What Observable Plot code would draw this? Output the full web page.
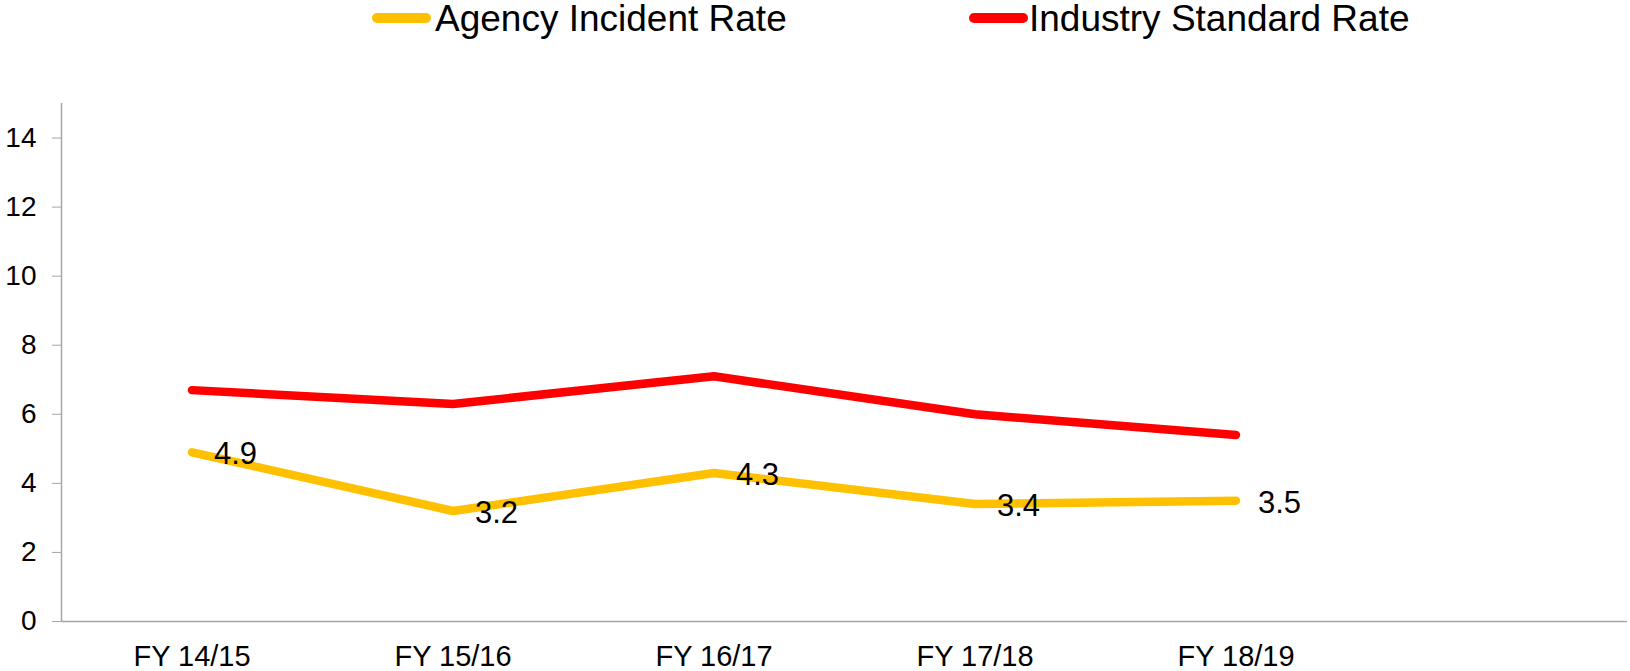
<!DOCTYPE html>
<html>
<head>
<meta charset="utf-8">
<script src="https://cdn.jsdelivr.net/npm/d3@7"></script>
<script src="https://cdn.jsdelivr.net/npm/@observablehq/plot@0.6"></script>
<style>
  html, body { margin: 0; padding: 0; background: #fff; }
  body { width: 1630px; height: 671px; overflow: hidden; font-family: "Liberation Sans", Arial, sans-serif; }
  #legend { position: relative; width: 1630px; height: 60px; }
  .sw { position: absolute; height: 10px; border-radius: 5px; top: 13px; }
  .lt { position: absolute; top: 0px; font-size: 37px; line-height: 37px; color: #000; white-space: nowrap; }
  #chart svg { display: block; }
</style>
</head>
<body>
<div id="legend"></div>
<div id="chart"></div>
<script>
const categories = ["FY 14/15", "FY 15/16", "FY 16/17", "FY 17/18", "FY 18/19"];
const agencyRate = [4.9, 3.2, 4.3, 3.4, 3.5];
const industryRate = [6.7, 6.3, 7.1, 6.0, 5.4];
const seriesNames = ["Agency Incident Rate", "Industry Standard Rate"];
const seriesColors = ["#FFC000", "#FF0000"];
const yTicks = [0, 2, 4, 6, 8, 10, 12, 14];

// legend
const legend = document.getElementById("legend");
const legendPos = [{sx: 372, tx: 435}, {sx: 969, tx: 1029}];
seriesNames.forEach((name, i) => {
  const sw = document.createElement("div");
  sw.className = "sw";
  sw.style.left = legendPos[i].sx + "px";
  sw.style.width = "59px";
  sw.style.background = seriesColors[i];
  legend.appendChild(sw);
  const t = document.createElement("div");
  t.className = "lt";
  t.style.left = legendPos[i].tx + "px";
  t.textContent = name;
  legend.appendChild(t);
});

const agencyRows = categories.map((c, i) => ({cat: c, idx: i, value: agencyRate[i]}));
const industryRows = categories.map((c, i) => ({cat: c, idx: i, value: industryRate[i]}));

const chart = Plot.plot({
  width: 1630,
  height: 611,
  marginTop: 43,
  marginBottom: 50,
  marginLeft: 61,
  marginRight: 3,
  style: {fontFamily: "'Liberation Sans', Arial, sans-serif", fontSize: "28px", background: "#fff", color: "#000"},
  x: {type: "linear", domain: [-0.5, categories.length + 0.5]},
  y: {domain: [0, 15]},
  marks: [
    Plot.axisX({ticks: categories.map((c, i) => i), tickFormat: i => categories[i], tickSize: 0, tickPadding: 24, fontSize: 29, fill: "#000", label: null}),
    Plot.axisY({ticks: yTicks, tickSize: 9, tickPadding: 16, fontSize: 28, stroke: "#a6a6a6", fill: "#000", label: null}),
    Plot.ruleX([-0.5], {y1: 0, y2: 15, stroke: "#a6a6a6", strokeWidth: 1.5}),
    Plot.ruleY([0], {stroke: "#a6a6a6", strokeWidth: 1.5}),
    Plot.line(industryRows, {x: "idx", y: "value", stroke: seriesColors[1], strokeWidth: 8.5, strokeLinecap: "round", strokeLinejoin: "round"}),
    Plot.line(agencyRows, {x: "idx", y: "value", stroke: seriesColors[0], strokeWidth: 8.5, strokeLinecap: "round", strokeLinejoin: "round"}),
    Plot.text(agencyRows, {x: "idx", y: "value", text: d => d.value.toFixed(1), dx: 22, dy: 2, textAnchor: "start", fontSize: 31, fill: "#000"})
  ]
});
document.getElementById("chart").appendChild(chart);
</script>
</body>
</html>
